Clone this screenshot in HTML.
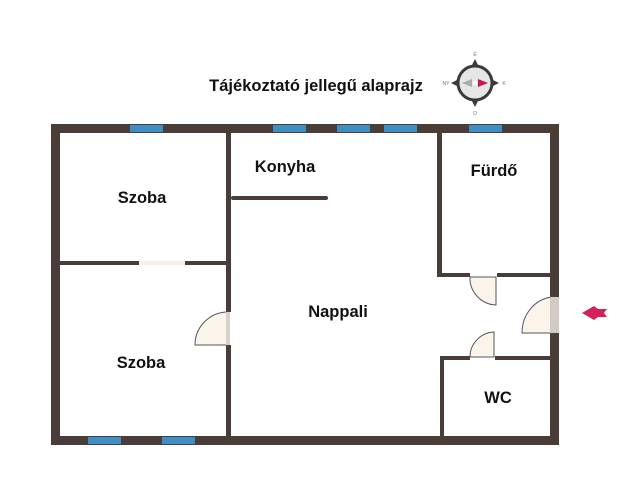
<!DOCTYPE html>
<html><head><meta charset="utf-8"><style>body{margin:0;background:#fff}svg{display:block}</style></head><body>
<svg width="640" height="484" viewBox="0 0 640 484" xmlns="http://www.w3.org/2000/svg">
<rect width="640" height="484" fill="#fff"/>
<text x="316" y="91" text-anchor="middle" font-family="Liberation Sans, sans-serif" font-weight="bold" font-size="16.5" fill="#111">Tájékoztató jellegű alaprajz</text>
<!-- compass -->
<g transform="translate(475,83)">
<circle r="17" fill="#e6e6e6" stroke="#3a3a3a" stroke-width="3"/>
<polygon points="0,-24 -3,-18 3,-18" fill="#3a3a3a"/><polygon points="0,24 -3,18 3,18" fill="#3a3a3a"/>
<polygon points="-24,0 -18,-3 -18,3" fill="#3a3a3a"/><polygon points="24,0 18,-3 18,3" fill="#3a3a3a"/>
<polygon points="13,0 3,-4 3,4" fill="#c8184a"/><polygon points="-13,0 -3,-4 -3,4" fill="#aaa"/>
<circle r="2" fill="#fff"/>
<text y="-27" text-anchor="middle" font-size="5" font-family="Liberation Sans" fill="#777">É</text>
<text y="32" text-anchor="middle" font-size="5" font-family="Liberation Sans" fill="#777">D</text>
<text x="-29" y="2" text-anchor="middle" font-size="5" font-family="Liberation Sans" fill="#777">NY</text>
<text x="29" y="2" text-anchor="middle" font-size="5" font-family="Liberation Sans" fill="#777">K</text>
</g>
<g fill="#4a3d38">
<rect x="51" y="124" width="508" height="9"/>
<rect x="51" y="436" width="508" height="9"/>
<rect x="51" y="124" width="9" height="321"/>
<rect x="550" y="124" width="9" height="173"/>
<rect x="550" y="333" width="9" height="112"/>
<rect x="226" y="133" width="5" height="179"/>
<rect x="226" y="345" width="5" height="91"/>
<rect x="60" y="261" width="79" height="4"/>
<rect x="185" y="261" width="41" height="4"/>
<rect x="231" y="196" width="97" height="4" rx="2"/>
<rect x="437" y="133" width="5" height="144"/>
<rect x="437" y="273" width="33" height="4"/>
<rect x="497" y="273" width="53" height="4"/>
<rect x="440" y="356" width="30" height="4"/>
<rect x="495" y="356" width="55" height="4"/>
<rect x="440" y="356" width="4" height="80"/>
</g>
<g fill="#3d8fc4">
<rect x="130" y="125" width="33" height="7"/><rect x="273" y="125" width="33" height="7"/>
<rect x="337" y="125" width="33" height="7"/><rect x="384" y="125" width="33" height="7"/>
<rect x="469" y="125" width="33" height="7"/>
<rect x="88" y="437" width="33" height="7"/><rect x="162" y="437" width="33" height="7"/>
</g>
<rect x="139" y="261" width="46" height="4" fill="#f8f0e6"/>
<g stroke="#555" stroke-width="1" fill="#fbf4ea">
<path d="M228,312 A33,33 0 0 0 195,345 L228,345 Z"/>
<rect x="226" y="312" width="4" height="33" fill="#d9d1c8" stroke="none"/>
<path d="M496,277 L496,305 A27,27 0 0 1 470,277 Z"/>
<path d="M494,332 L494,357 L470,357 A25,25 0 0 1 494,332 Z"/>
<path d="M553,297 L553,333 L522,333 A33,36 0 0 1 553,297 Z"/>
<rect x="550" y="297" width="9" height="36" fill="#d3cbc3" stroke="none"/>
</g>
<polygon points="582,313 594,306 598,309 607,309 604,313 607,317 598,317 594,320" fill="#d3215a"/>
<g font-family="Liberation Sans, sans-serif" font-weight="bold" font-size="16.5" fill="#111" text-anchor="middle">
<text x="142" y="203">Szoba</text>
<text x="141" y="368">Szoba</text>
<text x="285" y="172">Konyha</text>
<text x="494" y="176">Fürdő</text>
<text x="338" y="317">Nappali</text>
<text x="498" y="403">WC</text>
</g>
</svg>
</body></html>
